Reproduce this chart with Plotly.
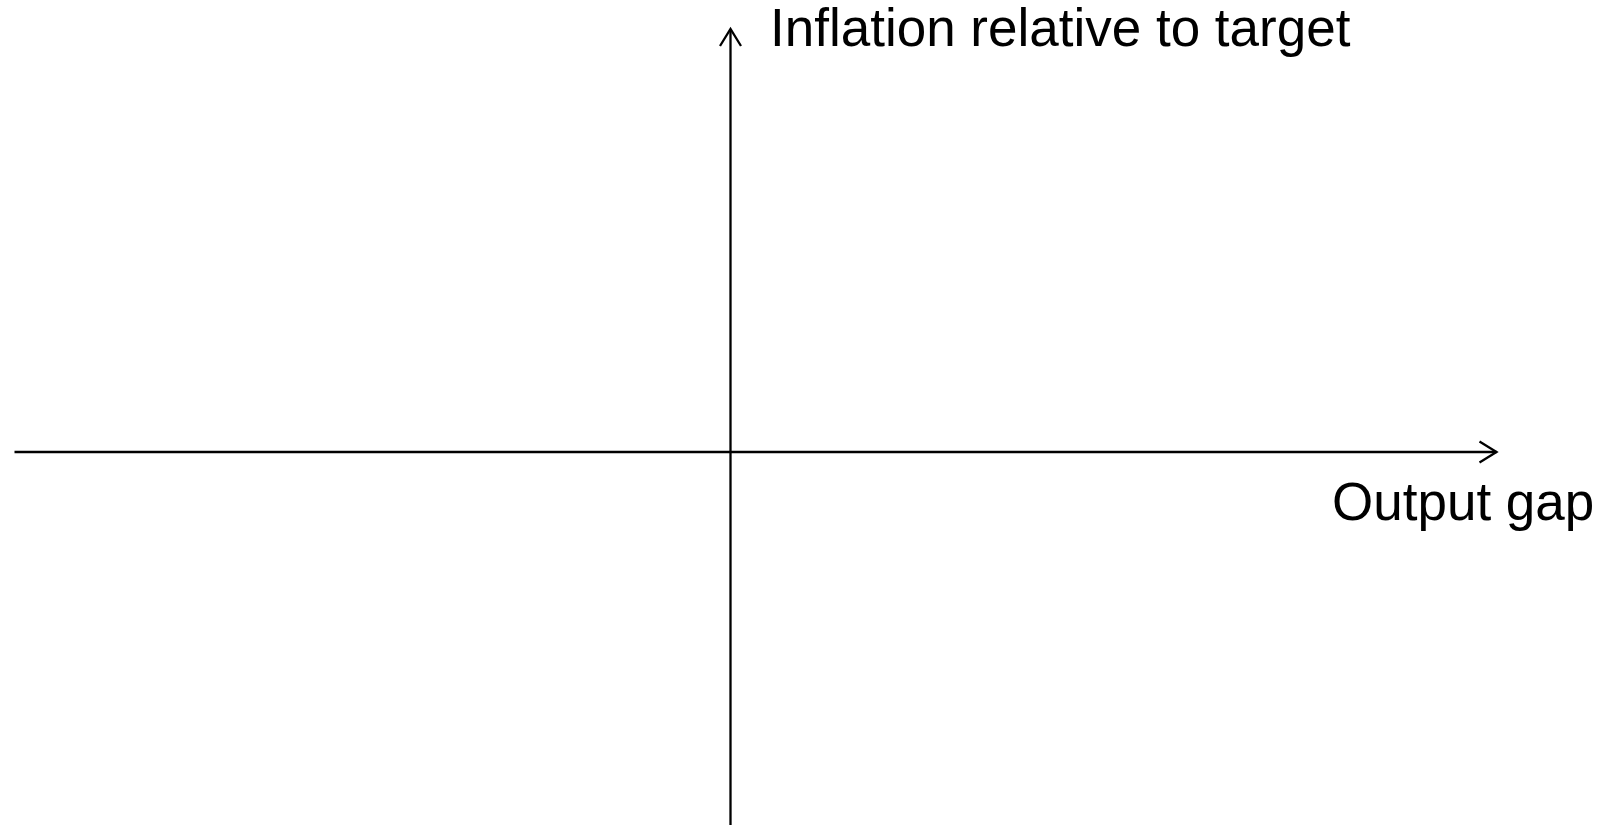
import plotly.graph_objects as go

# Schematic quadrant: output gap (x) against inflation relative to target (y).
# Units are arbitrary; the origin is where the two axes cross.
x_view = [-7.305, 8.835]
y_view = [-3.73, 4.52]

x_axis_ends = [-7.16, 7.66]     # left end, arrow tip
y_axis_ends = [-3.73, 4.23]     # bottom end, arrow tip

head_len = 0.17                 # chevron depth
head_half = 0.105               # chevron half width

x_label = "Output gap"
y_label = "Inflation relative to target"

LINE = dict(color="black", width=2.3)

fig = go.Figure()

# horizontal axis with open arrowhead
fig.add_trace(go.Scatter(x=x_axis_ends, y=[0, 0], mode="lines", line=LINE,
                         hoverinfo="skip", showlegend=False))
tip = x_axis_ends[1]
fig.add_trace(go.Scatter(x=[tip - head_len, tip, tip - head_len],
                         y=[head_half, 0, -head_half], mode="lines",
                         line=LINE, hoverinfo="skip", showlegend=False))

# vertical axis with open arrowhead
fig.add_trace(go.Scatter(x=[0, 0], y=y_axis_ends, mode="lines", line=LINE,
                         hoverinfo="skip", showlegend=False))
tip = y_axis_ends[1]
fig.add_trace(go.Scatter(x=[-head_half, 0, head_half],
                         y=[tip - head_len, tip, tip - head_len], mode="lines",
                         line=LINE, hoverinfo="skip", showlegend=False))

FONT = dict(family="Liberation Sans, Arial, sans-serif", size=53, color="black")

fig.add_annotation(x=0.385, y=y_view[1], xref="x", yref="y", text=y_label,
                   showarrow=False, xanchor="left", yanchor="top", yshift=3,
                   borderpad=0, font=FONT)
fig.add_annotation(x=5.99, y=-0.18, xref="x", yref="y", text=x_label,
                   showarrow=False, xanchor="left", yanchor="top", font=FONT)

fig.update_layout(
    width=1614, height=825,
    margin=dict(l=0, r=0, t=0, b=0),
    paper_bgcolor="white", plot_bgcolor="white",
    xaxis=dict(range=x_view, visible=False, fixedrange=True),
    yaxis=dict(range=y_view, visible=False, fixedrange=True),
)

fig.write_html("out.html", config={"displayModeBar": False})
